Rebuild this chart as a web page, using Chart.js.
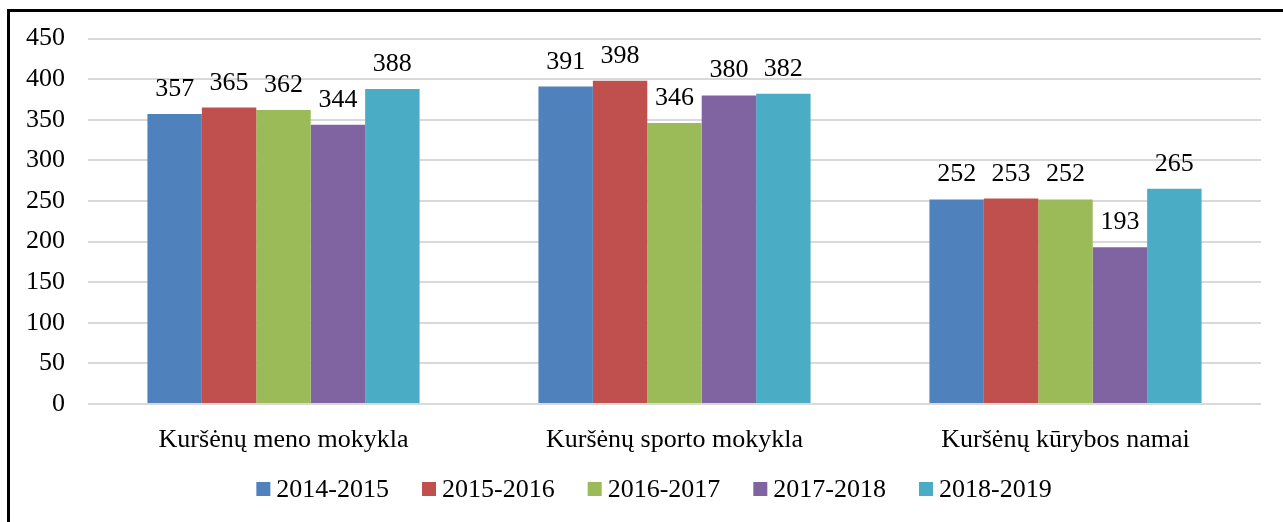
<!DOCTYPE html>
<html>
<head>
<meta charset="utf-8">
<script src="https://cdn.jsdelivr.net/npm/chart.js@4/dist/chart.umd.min.js"></script>
<style>
  html, body { margin: 0; padding: 0; background: #fff; overflow: hidden; }
  #frame { position: absolute; left: 7px; top: 9px; width: 1400px; height: 700px;
           border-left: 3px solid #000; border-top: 3px solid #000; }
  #chart { position: absolute; left: 0; top: 0; }
</style>
</head>
<body>
<div id="frame"></div>
<canvas id="chart" width="1283" height="522"></canvas>
<script>
// Data
const categories = ["Kuršėnų meno mokykla", "Kuršėnų sporto mokykla", "Kuršėnų kūrybos namai"];
const years = ["2014-2015", "2015-2016", "2016-2017", "2017-2018", "2018-2019"];
const values2014 = [357, 391, 252];
const values2015 = [365, 398, 253];
const values2016 = [362, 346, 252];
const values2017 = [344, 380, 193];
const values2018 = [388, 382, 265];
const yTicks = [0, 50, 100, 150, 200, 250, 300, 350, 400, 450];

const colors = ["#4F81BD", "#C0504D", "#9BBB59", "#8064A2", "#4BACC6"];
const series = [values2014, values2015, values2016, values2017, values2018];
const font = "'Liberation Serif', 'Times New Roman', serif";

// labels above the bars
const barLabels = {
  id: "barLabels",
  afterDatasetsDraw(chart) {
    const ctx = chart.ctx;
    ctx.save();
    ctx.font = "26px " + font;
    ctx.fillStyle = "#000";
    ctx.textAlign = "center";
    ctx.textBaseline = "alphabetic";
    chart.data.datasets.forEach((ds, i) => {
      chart.getDatasetMeta(i).data.forEach((bar, j) => {
        ctx.fillText(String(ds.data[j]), bar.x, bar.y - 18);
      });
    });
    ctx.restore();
  }
};

// bottom legend, Excel style (small square, tight gap to text)
const bottomLegend = {
  id: "bottomLegend",
  afterDraw(chart) {
    const ctx = chart.ctx;
    const box = 14, gap = 6, spacing = 33, centerX = 654, midY = 490;
    ctx.save();
    ctx.font = "26px " + font;
    ctx.textBaseline = "middle";
    ctx.textAlign = "left";
    const items = chart.data.datasets.map(ds => ({
      text: ds.label, color: ds.backgroundColor, w: box + gap + ctx.measureText(ds.label).width
    }));
    const total = items.reduce((s, it) => s + it.w, 0) + spacing * (items.length - 1);
    let x = centerX - total / 2;
    items.forEach(it => {
      ctx.fillStyle = it.color;
      ctx.fillRect(x, midY - box / 2 - 1, box, box);
      ctx.fillStyle = "#000";
      ctx.fillText(it.text, x + box + gap, midY);
      x += it.w + spacing;
    });
    ctx.restore();
  }
};

new Chart(document.getElementById("chart").getContext("2d"), {
  type: "bar",
  data: {
    labels: categories,
    datasets: years.map((y, i) => ({
      label: y,
      data: series[i],
      backgroundColor: colors[i],
      borderWidth: 0,
      barPercentage: 1,
      categoryPercentage: 0.696
    }))
  },
  options: {
    responsive: false,
    animation: false,
    layout: { padding: { left: 20, right: 22, top: 28, bottom: 58 } },
    plugins: {
      legend: { display: false },
      tooltip: { enabled: false }
    },
    scales: {
      x: {
        grid: { display: false },
        border: { display: false },
        afterFit(scale) { scale.height = 60; },
        ticks: { color: "#000", font: { family: font, size: 26 }, padding: 13 }
      },
      y: {
        min: 0,
        max: 450,
        afterBuildTicks(scale) { scale.ticks = yTicks.map(v => ({ value: v })); },
        afterFit(scale) { scale.width = 68; },
        grid: { color: "#d9d9d9", lineWidth: 2, drawTicks: false },
        border: { display: false },
        ticks: { color: "#000", font: { family: font, size: 26 }, padding: 23 }
      }
    }
  },
  plugins: [barLabels, bottomLegend]
});
</script>
</body>
</html>
